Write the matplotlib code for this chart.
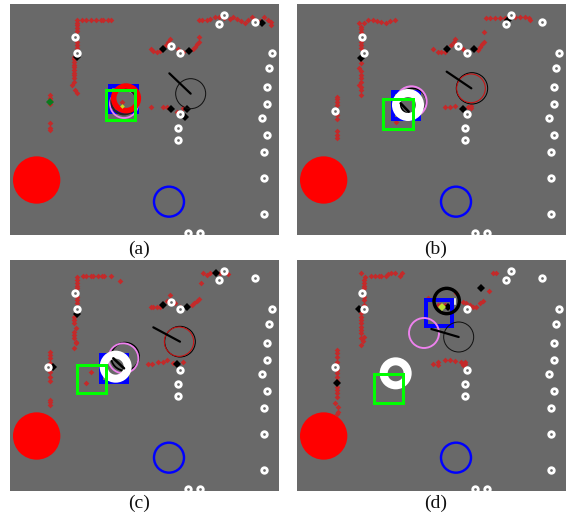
import matplotlib
matplotlib.use('Agg')
import matplotlib.pyplot as plt
from matplotlib.patches import Circle, Rectangle

W, H = 578, 518
bg = '#696969'
dot_red = '#c42a2a'
px = 0.72  # one pixel in points at dpi 100

# everything in 3x pixel units
rings_x = [224, 231, 513, 541, 671, 656, 764, 815, 808, 800, 800, 786, 541, 534, 534, 801, 793, 793, 793, 563, 599]
rings_y = [110, 160, 138, 160, 44, 73, 66, 160, 204, 261, 312, 355, 341, 383, 420, 405, 455, 535, 643, 700, 700]
disk = (110, 540, 71)
blue_circle = (507, 605, 45)

a_red = [(230, 60), (245, 60), (258, 60), (272, 60), (287, 60), (302, 60), (310, 60), (325, 60), (332, 60),
         (230, 68), (230, 76), (230, 84), (230, 92), (230, 125), (230, 135), (230, 145),
         (222, 170), (222, 178), (222, 186), (222, 194), (222, 202), (222, 210), (222, 218), (222, 226), (222, 234), (222, 245),
         (215, 255), (225, 270), (230, 278),
         (150, 285), (150, 293), (150, 300), (150, 312), (150, 370), (150, 385), (150, 389),
         (452, 147), (460, 153), (470, 155), (480, 153), (497, 135), (505, 125), (510, 118), (535, 148), (548, 155),
         (578, 148), (585, 140), (590, 133), (597, 125), (597, 111),
         (597, 60), (607, 60), (620, 60), (630, 58), (645, 52), (658, 50), (672, 55), (690, 58), (700, 52), (712, 58),
         (722, 62), (735, 68), (745, 60), (755, 52), (765, 60), (780, 62), (792, 52), (805, 60), (813, 65), (813, 75),
         (453, 320), (490, 320), (500, 322), (530, 335), (548, 325)]
a_black = [(490, 147), (568, 153), (785, 68), (230, 172), (512, 328), (560, 327), (555, 350)]

b_red = [(212, 68), (227, 68), (240, 60), (255, 60), (268, 62), (280, 66), (293, 70), (305, 62), (320, 60),
         (220, 80), (220, 88), (220, 95), (220, 125), (220, 135), (220, 145),
         (218, 190), (212, 205), (218, 212), (220, 225), (220, 235), (220, 245), (213, 255), (220, 260), (220, 270), (220, 285),
         (147, 290), (147, 298), (147, 306), (147, 314), (147, 345), (147, 358), (147, 392), (147, 405), (147, 415),
         (436, 147), (450, 155), (460, 155), (470, 155), (490, 135), (497, 125), (502, 117), (525, 148), (538, 155),
         (570, 150), (575, 140), (582, 132), (588, 125), (587, 97),
         (593, 53), (605, 53), (620, 53), (635, 53), (650, 55), (680, 52), (695, 52), (710, 52), (722, 55), (725, 60),
         (470, 320), (485, 320), (500, 318), (540, 320), (550, 325), (550, 318), (325, 365)]
b_black = [(220, 175), (478, 147), (558, 147), (660, 60), (525, 327)]

c_red = [(232, 65), (250, 62), (258, 62), (272, 62), (280, 62), (295, 62), (305, 62), (312, 62), (332, 62), (360, 77),
         (230, 75), (230, 84), (230, 92), (230, 100), (230, 125), (230, 135), (230, 145),
         (222, 185), (222, 195), (222, 205), (228, 220), (222, 230), (222, 240), (222, 250), (228, 260), (228, 265), (222, 280),
         (150, 292), (150, 300), (150, 308), (150, 325), (150, 350), (150, 365), (150, 378), (150, 435), (150, 442), (150, 450),
         (452, 155), (460, 155), (470, 155), (480, 155), (500, 138), (510, 120), (525, 145), (540, 155),
         (575, 150), (582, 145), (590, 138), (597, 132),
         (610, 55), (620, 60), (630, 55), (660, 55), (685, 57), (604, 85),
         (445, 328), (455, 328), (475, 322), (490, 320), (500, 315), (520, 325), (548, 322), (272, 350), (258, 385)]
c_black = [(230, 178), (160, 337), (490, 150), (562, 155), (648, 55), (530, 327)]

d_red = [(220, 55), (230, 65), (248, 62), (262, 62), (272, 62), (278, 62), (295, 62), (300, 58), (310, 55), (320, 55), (335, 62), (342, 55),
         (227, 75), (227, 84), (227, 92), (227, 100), (227, 125), (227, 135), (227, 150),
         (220, 175), (220, 185), (220, 195), (220, 205), (220, 215), (220, 225), (220, 235), (227, 245), (220, 250), (225, 258), (220, 270),
         (147, 285), (147, 295), (147, 305), (147, 320), (147, 345), (147, 355), (147, 365), (147, 378),
         (147, 395), (147, 405), (147, 415), (147, 425), (140, 445), (150, 455), (150, 470), (148, 478),
         (420, 128), (505, 115), (450, 150), (460, 150), (470, 150),
         (525, 140), (535, 145), (545, 150), (555, 155), (565, 155), (575, 145), (585, 138), (602, 107), (615, 55), (625, 55),
         (436, 328), (450, 320), (450, 330), (470, 314), (485, 314), (500, 318), (520, 322), (530, 320), (525, 330), (530, 328)]
d_black = [(480, 155), (580, 98), (213, 163), (147, 385)]


def pts(ax, points, color, size, z=3):
    ax.plot([p[0] for p in points], [p[1] for p in points], ls='none', marker='D',
            ms=size, mfc=color, mec=color, mew=0, zorder=z)


def ring(ax, x, y, r, color, width, z=5):
    ax.add_patch(Circle((x, y), r, fill=False, ec=color, lw=width * px, zorder=z))


def square(ax, x0, x1, y0, y1, color, width=3, z=4.5):
    ax.add_patch(Rectangle((x0, y0), x1 - x0, y1 - y0, fill=False, ec=color, lw=width * px, zorder=z,
                           joinstyle='miter'))


def needle(ax, x0, y0, x1, y1, width=2.2):
    ax.plot([x0, x1], [y0, y1], color='black', lw=width * px, zorder=5, solid_capstyle='round')


def panel(left, top, red, black, extra_ring=None, hide=None):
    ax = fig.add_axes([left / W, 1 - (top + 231) / H, 269 / W, 231 / H])
    ax.set_facecolor(bg)
    ox = 27 if left > 100 else 30
    oy = 12 if top < 100 else 15
    ax.set_xlim(ox, ox + 807)
    ax.set_ylim(oy + 693, oy)
    ax.set_xticks([])
    ax.set_yticks([])
    for s in ax.spines.values():
        s.set_visible(False)
    ax.add_patch(Circle((disk[0] + ox - 30, disk[1] + oy - 12), disk[2], fc='red', ec='none', zorder=2))
    ring(ax, blue_circle[0] + ox - 30, blue_circle[1] + oy - 12, blue_circle[2], 'blue', 2.4)
    pts(ax, red, dot_red, 2.9)
    pts(ax, black, 'black', 3.8, z=4)
    xs = [x + ox - 30 for i, x in enumerate(rings_x) if i != hide]
    ys = [y + oy - 12 for i, y in enumerate(rings_y) if i != hide]
    if extra_ring:
        xs.append(extra_ring[0])
        ys.append(extra_ring[1])
    ax.plot(xs, ys, ls='none', marker='o', ms=4.0, mfc=bg, mec='white', mew=2.0, zorder=4)
    return ax


fig = plt.figure(figsize=(W / 100, H / 100), dpi=100)

# (a)
ax = panel(10, 4, a_red, a_black)
pts(ax, [(150, 306)], '#0b7a1e', 4.0, z=4)
square(ax, 330, 410, 257, 335, 'blue', 4)
ring(ax, 372, 312, 42, 'violet', 1.8)
ring(ax, 372, 305, 38, '#222222', 2.2)
ring(ax, 378, 295, 37, 'red', 5.5)
pts(ax, [(367, 305)], dot_red, 2.9, z=7)
pts(ax, [(367, 318)], '#c8e020', 2.4, z=7)
square(ax, 317, 406, 270, 360, 'lime', z=6)
ring(ax, 572, 281, 45, '#111111', 1.0)
needle(ax, 572, 281, 508, 220)

# (b)
ax = panel(297, 4, b_red, b_black, extra_ring=(142, 333))
square(ax, 315, 393, 277, 356, 'blue', 4)
ring(ax, 375, 305, 40, 'black', 1.8)
ring(ax, 370, 305, 46, 'violet', 2.0)
ring(ax, 360, 315, 36, 'white', 8)
needle(ax, 338, 310, 362, 335, 2.6)
square(ax, 285, 375, 298, 388, 'lime', z=6)
ring(ax, 552, 265, 47, 'black', 1.0)
ring(ax, 549, 265, 43, '#d01010', 1.0)
needle(ax, 550, 265, 476, 215)

# (c)
ax = panel(10, 260, c_red, c_black, extra_ring=(145, 335))
square(ax, 302, 382, 300, 380, 'blue', 4)
ring(ax, 375, 305, 42, 'black', 1.8)
ring(ax, 370, 310, 45, 'violet', 1.8)
ring(ax, 347, 335, 36, 'white', 8)
needle(ax, 340, 310, 372, 340, 2.6)
square(ax, 232, 318, 330, 415, 'lime', z=6)
ring(ax, 540, 260, 46, 'black', 1.0)
ring(ax, 537, 260, 44, '#d01010', 1.0)
needle(ax, 540, 260, 460, 217)

# (d)
ax = panel(297, 260, d_red, d_black, extra_ring=(142, 335), hide=2)
square(ax, 415, 493, 136, 212, 'blue', 4)
ax.plot([502, 502], [132, 148], color='white', lw=1.6 * px, zorder=4)
ring(ax, 476, 138, 38, 'black', 3.4)
pts(ax, [(463, 157)], '#b8e030', 4.0, z=7)
ring(ax, 408, 234, 45, 'violet', 1.9)
ring(ax, 512, 246, 45, '#111111', 1.0)
needle(ax, 512, 246, 430, 222)
ring(ax, 323, 355, 36, 'white', 8)
square(ax, 257, 345, 358, 445, 'lime', z=6)

caption_x = [139, 436, 139, 436]
caption_y = [249, 249, 503, 503]
captions = ['(a)', '(b)', '(c)', '(d)']
for x, y, label in zip(caption_x, caption_y, captions):
    fig.text(x / W, 1 - y / H, label, ha='center', va='center', fontsize=14, family='Liberation Serif', color='#111111')

fig.savefig('out.png', dpi=100)
